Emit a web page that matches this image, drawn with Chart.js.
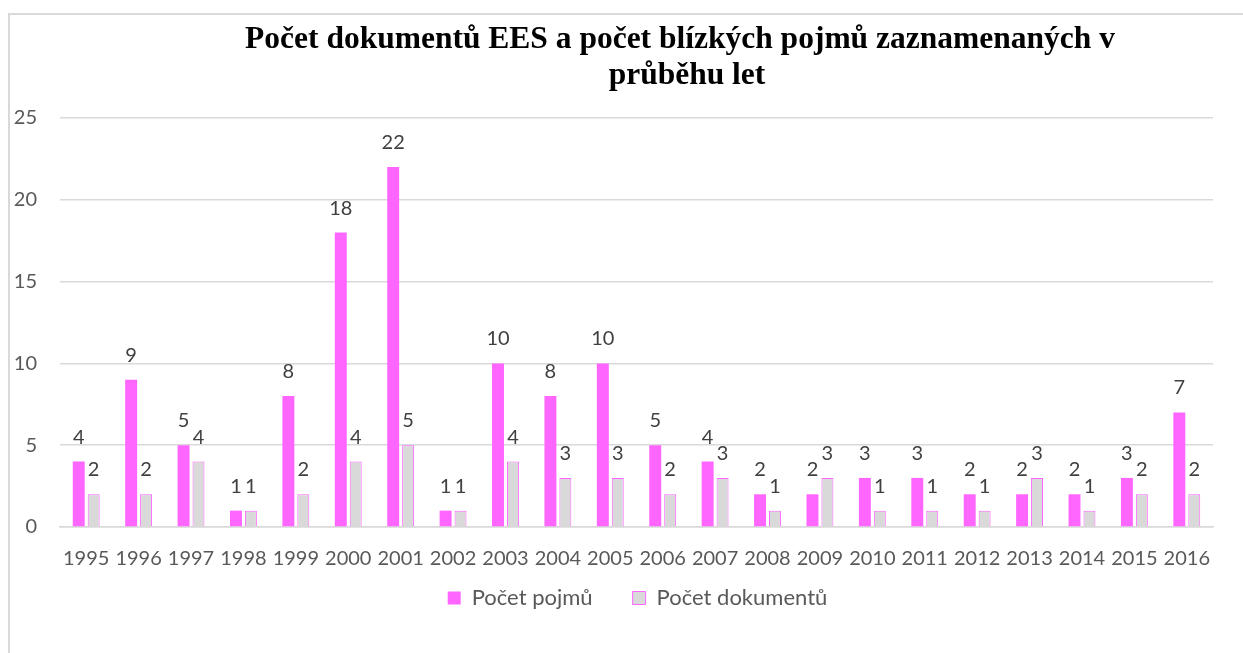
<!DOCTYPE html>
<html>
<head>
<meta charset="utf-8">
<script src="https://cdn.jsdelivr.net/npm/chart.js@4/dist/chart.umd.min.js"></script>
<style>
  body { margin: 0; background: #fff; }
  #wrap { position: relative; width: 1243px; height: 653px; overflow: hidden; }
  #frame {
    position: absolute; left: 8px; top: 13px; width: 1300px; height: 700px;
    border-left: 2px solid #d9d9d9; border-top: 2px solid #d9d9d9;
  }
  #title {
    position: absolute; left: 200px; width: 960px; top: 20px;
    text-align: center; font-family: "Liberation Serif", serif; font-weight: bold;
    font-size: 31.5px; line-height: 36px; color: #000; white-space: nowrap;
  }
  #title span { position: relative; left: 7px; }
  #chart { position: absolute; left: 0; top: 0; }
</style>
</head>
<body>
<div id="wrap">
  <div id="frame"></div>
  <canvas id="chart" width="1243" height="653"></canvas>
  <div id="title">Počet dokumentů EES a počet blízkých pojmů zaznamenaných v<br><span>průběhu let</span></div>
</div>
<script>
let years = ["1995", "1996", "1997", "1998", "1999", "2000", "2001", "2002", "2003", "2004", "2005",
  "2006", "2007", "2008", "2009", "2010", "2011", "2012", "2013", "2014", "2015", "2016"];
let pocet_pojmu = [4, 9, 5, 1, 8, 18, 22, 1, 10, 8, 10, 5, 4, 2, 2, 3, 3, 2, 2, 2, 3, 7];
let pocet_dokumentu = [2, 2, 4, 1, 2, 4, 5, 1, 4, 3, 3, 2, 3, 1, 3, 1, 1, 1, 3, 1, 2, 2];
let y_ticks = [0, 5, 10, 15, 20, 25];

let pink = "#ff66ff";
let gray = "#d9d9d9";
let font_family = "Lato, 'Open Sans', sans-serif";
let legend_shift_y = 44;
let legend_shift_x = 26;

// values above the bars
let valueLabels = {
  id: "valueLabels",
  afterDatasetsDraw(chart) {
    let ctx = chart.ctx;
    ctx.save();
    ctx.font = "20px " + font_family;
    ctx.fillStyle = "#404040";
    ctx.textAlign = "center";
    ctx.textBaseline = "alphabetic";
    chart.data.datasets.forEach((ds, i) => {
      let meta = chart.getDatasetMeta(i);
      meta.data.forEach((bar, j) => {
        ctx.fillText(String(ds.data[j]), bar.x, bar.y - 18);
      });
    });
    ctx.restore();
  },
};

// legend padding is large for the item gap, pull it back up closer to the axis
let legendShift = {
  id: "legendShift",
  afterLayout(chart) {
    chart.legend.top -= legend_shift_y;
    chart.legend.bottom -= legend_shift_y;
    chart.legend.left += legend_shift_x;
    chart.legend.right += legend_shift_x;
  },
};

let config = {
  type: "bar",
  data: {
    labels: years,
    datasets: [
      {
        label: "Počet pojmů",
        data: pocet_pojmu,
        backgroundColor: pink,
        borderColor: pink,
        borderWidth: 0,
      },
      {
        label: "Počet dokumentů",
        data: pocet_dokumentu,
        backgroundColor: gray,
        borderColor: pink,
        borderWidth: 1,
      },
    ],
  },
  options: {
    responsive: false,
    animation: false,
    datasets: {
      bar: { categoryPercentage: 0.57, barPercentage: 0.8 },
    },
    layout: { padding: { left: 10, right: 30, top: 118, bottom: -10 } },
    plugins: {
      title: { display: false },
      tooltip: { enabled: false },
      legend: {
        position: "bottom",
        labels: {
          color: "#595959",
          font: { family: font_family, size: 22 },
          boxWidth: 13,
          boxHeight: 13,
          padding: 40,
        },
      },
    },
    scales: {
      x: {
        grid: { display: false, drawTicks: false },
        border: { color: gray, width: 1.5 },
        ticks: {
          color: "#595959",
          font: { family: font_family, size: 20 },
          padding: 20,
          maxRotation: 0,
          autoSkip: false,
        },
      },
      y: {
        min: 0,
        max: 25,
        afterFit(scale) {
          scale.width = 50;
        },
        afterBuildTicks(scale) {
          scale.ticks = y_ticks.map((v) => ({ value: v }));
        },
        grid: { color: gray, lineWidth: 1.5, drawTicks: false },
        border: { display: false },
        ticks: {
          color: "#595959",
          font: { family: font_family, size: 20 },
          padding: 23,
        },
      },
    },
  },
  plugins: [valueLabels, legendShift],
};

new Chart(document.getElementById("chart"), config);
</script>
</body>
</html>
